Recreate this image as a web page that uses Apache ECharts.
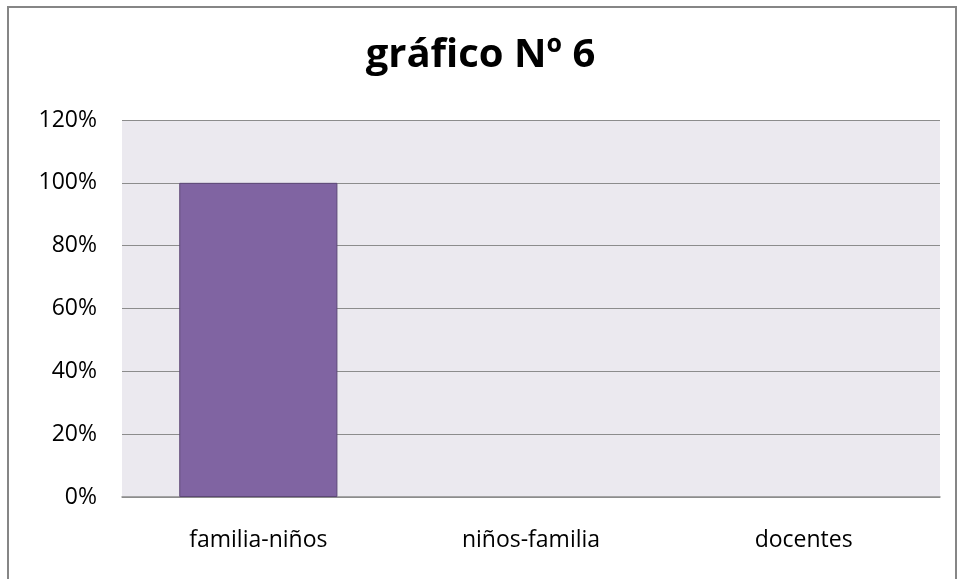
<!DOCTYPE html>
<html>
<head>
<meta charset="utf-8">
<script src="https://cdn.jsdelivr.net/npm/echarts@6/dist/echarts.min.js"></script>
<style>
  html, body { margin: 0; padding: 0; background: #fff; }
  #chart { width: 961px; height: 579px; }
</style>
</head>
<body>
<div id="chart"></div>
<script>
const categories = ['familia-niños', 'niños-familia', 'docentes']
const values = [1, 0, 0]
const yTicks = { min: 0, max: 1.2, interval: 0.2 }

const myChart = echarts.init(document.getElementById('chart'))
myChart.setOption({
  animation: false,
  title: {
    text: 'gráfico Nº 6',
    left: 'center',
    top: 31,
    textStyle: { fontFamily: 'Open Sans', fontWeight: 'bold', fontSize: 40, color: '#000' }
  },
  graphic: [
    {
      type: 'rect',
      shape: { x: 8, y: 7, width: 948, height: 600 },
      style: { fill: 'none', stroke: '#868686', lineWidth: 2 },
      z: 100
    }
  ],
  grid: { left: 122, right: 21, top: 120, bottom: 82, backgroundColor: '#EBE9EF', show: true, borderWidth: 0 },
  xAxis: {
    type: 'category',
    data: categories,
    axisTick: { show: false },
    axisLine: { lineStyle: { color: '#8c8c8c', width: 1.5 } },
    axisLabel: { margin: 32, fontFamily: 'Open Sans', fontSize: 23, color: '#000' }
  },
  yAxis: {
    type: 'value',
    min: yTicks.min,
    max: yTicks.max,
    interval: yTicks.interval,
    axisLine: { show: false },
    axisTick: { show: false },
    splitLine: { lineStyle: { color: '#8c8c8c', width: 1 } },
    axisLabel: {
      margin: 25,
      fontFamily: 'Open Sans',
      fontSize: 23,
      color: '#000',
      formatter: v => Math.round(v * 100) + '%'
    }
  },
  series: [
    {
      type: 'bar',
      data: values.map(v => ({ value: v, itemStyle: v === 0 ? { borderWidth: 0 } : {} })),
      barCategoryGap: '42%',
      itemStyle: { color: '#8064A2', borderColor: '#5C4776', borderWidth: 1 }
    }
  ]
})
</script>
</body>
</html>
